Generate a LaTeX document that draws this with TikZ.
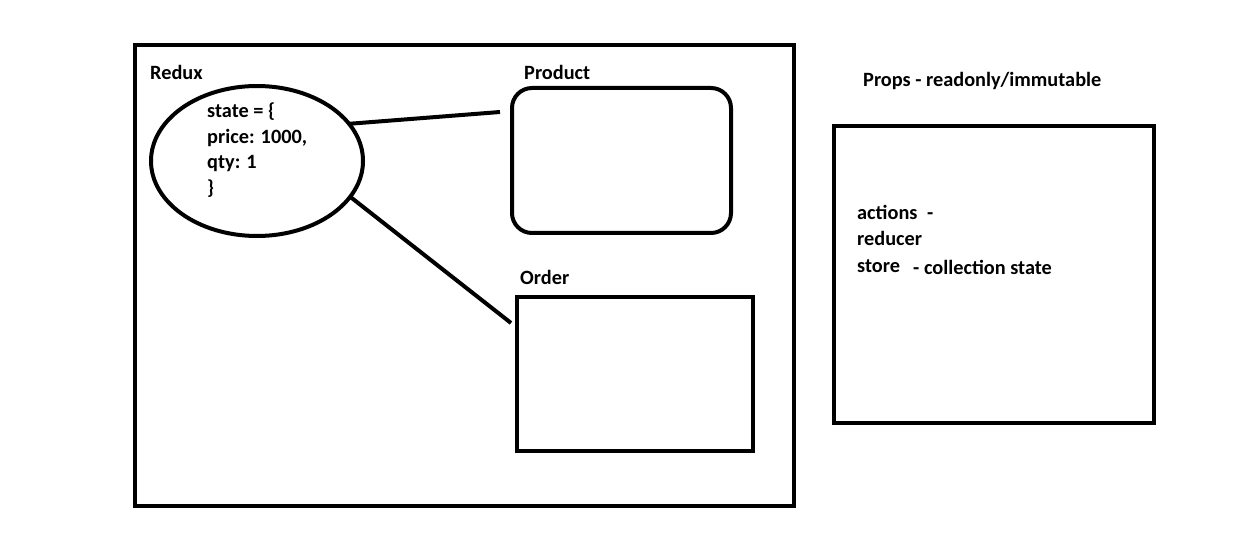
\documentclass[tikz,border=0pt]{standalone}
\usepackage{fontspec}
\setmainfont{Carlito}
\usepackage{tikz}
\usetikzlibrary{shapes,positioning}

\tikzset{
  box/.style={draw,line width=4pt,inner sep=0pt,outer sep=0pt,anchor=north west},
  lbl/.style={anchor=base west,inner sep=0pt,font=\bfseries\fontsize{20.3}{24}\selectfont},
  link/.style={line width=4pt}
}

\begin{document}
\begin{tikzpicture}[x=1pt,y=-1pt]
        \useasboundingbox (0,0) rectangle (1234,540);
        \node[box,minimum width=659pt,minimum height=461pt] (redux) at (135,45) {};
        \node[box,rounded corners=20pt,minimum width=219pt,minimum height=145pt] (product) at (512,88) {};
        \node[box,minimum width=236pt,minimum height=154pt] (order) at (517,297) {};
        \node[box,minimum width=320pt,minimum height=297pt] (props) at (834,126) {};
        \node[draw,ellipse,line width=4pt,outer sep=0pt,minimum width=212pt,minimum height=150pt] (state) at (257,161) {};
        \node[lbl] (redux-l) at (150,80) {Redux};
        \node[lbl] (product-l) at (524,80) {Product};
        \node[lbl] (order-l) at (520,284) {Order};
        \node[lbl] (props-l) at (863,87) {Props - readonly/immutable};
        \foreach \txt [count=\i] in {state = \{,{price: 1000,},qty: 1,\}}{
          \node[lbl] (state-\i) at (207,118+25.5*\i-25.5) {\txt};
        }
        \foreach \txt [count=\i] in {actions,reducer,store}{
          \node[lbl] (item-\i) at (857,219+26.5*\i-26.5) {\txt};
        }
        \node[lbl] (actions-d) at (927,219) {-};
        \node[lbl] (store-d) at (913,274) {- collection state};
        \coordinate (product-in) at (500,112);
        \coordinate (order-in) at (511,323);
        \draw[link] (state.22) -- (product-in);
        \draw[link] (state.-21) -- (order-in);
      \end{tikzpicture}
\end{document}
